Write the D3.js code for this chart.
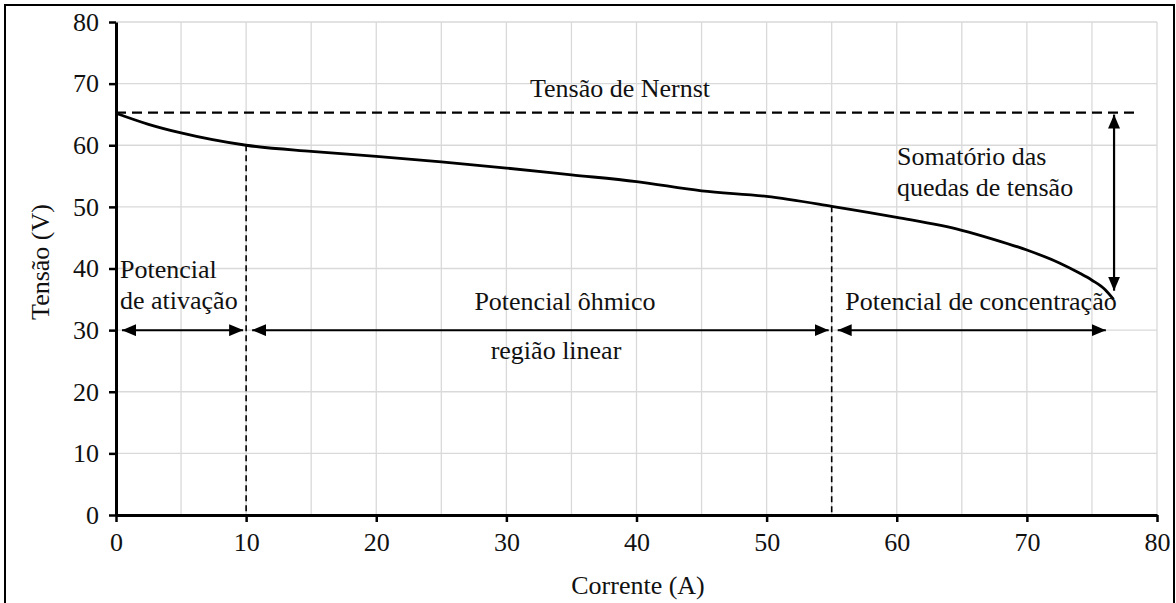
<!DOCTYPE html>
<html><head><meta charset="utf-8">
<script src="https://cdn.jsdelivr.net/npm/d3@7"></script>
<style>body{margin:0;background:#fff}svg{display:block}
svg text{font-family:"Liberation Serif","Times New Roman","DejaVu Serif",serif;}</style>
</head><body>
<script>
const currentA = [0, 2.5, 5, 10, 15, 20, 25, 30, 35, 40, 45, 50, 55, 60, 65, 67.5, 70, 72.5, 74, 75, 76, 76.66];
const voltageV = [65.2, 63.4, 62.0, 60.0, 59.0, 58.2, 57.3, 56.3, 55.2, 54.1, 52.6, 51.7, 50.1, 48.3, 46.2, 44.7, 43.0, 40.9, 39.3, 38.1, 36.6, 35.0];
const xTicks = [0, 10, 20, 30, 40, 50, 60, 70, 80];
const yTicks = [0, 10, 20, 30, 40, 50, 60, 70, 80];
const xGrid = d3.range(0, 81, 5);
const nernstV = 65.3;
const regionBounds = [0, 10, 55, 76.3];
const regionVLines = [10, 55];
const arrowY = 30;

const W = 1176, H = 603;
const svg = d3.select("body").append("svg").attr("width", W).attr("height", H);
const x = d3.scaleLinear().domain([0, 80]).range([116, 1157]);
const y = d3.scaleLinear().domain([0, 80]).range([515, 22]);

// frame
svg.append("rect").attr("x", 5).attr("y", 5).attr("width", 1169).attr("height", 610)
  .attr("fill", "none").attr("stroke", "#000").attr("stroke-width", 2);

const defs = svg.append("defs");
defs.append("marker").attr("id", "ah").attr("viewBox", "0 0 14 12")
  .attr("refX", 14).attr("refY", 6).attr("markerWidth", 14).attr("markerHeight", 12)
  .attr("markerUnits", "userSpaceOnUse").attr("orient", "auto-start-reverse")
  .append("path").attr("d", "M0,0 L14,6 L0,12 Z").attr("fill", "#000");

// grid
const g = svg.append("g");
g.selectAll(".vg").data(xGrid.filter(d => d > 0)).join("line")
  .attr("x1", d => x(d)).attr("x2", d => x(d)).attr("y1", y(0)).attr("y2", y(80))
  .attr("stroke", "#d9d9d9").attr("stroke-width", 1.3);
g.selectAll(".hg").data(yTicks.filter(d => d > 0)).join("line")
  .attr("x1", x(0)).attr("x2", x(80)).attr("y1", d => y(d)).attr("y2", d => y(d))
  .attr("stroke", "#d9d9d9").attr("stroke-width", 1.3);

// axes
const xAxis = d3.axisBottom(x).tickValues(xTicks).tickSize(7).tickSizeOuter(0).tickPadding(11);
const yAxis = d3.axisLeft(y).tickValues(yTicks).tickSize(7).tickSizeOuter(0).tickPadding(10);
const xa = svg.append("g").attr("transform", `translate(0,${y(0)})`).call(xAxis);
const ya = svg.append("g").attr("transform", `translate(${x(0)},0)`).call(yAxis);
[xa, ya].forEach(a => {
  a.attr("font-family", null).attr("font-size", 26);
  a.select(".domain").attr("stroke", "#000").attr("stroke-width", 3);
  a.selectAll(".tick line").attr("stroke", "#000").attr("stroke-width", 2.5);
  a.selectAll(".tick text").attr("fill", "#111");
});

// vertical dashed region lines
svg.selectAll(".rl").data(regionVLines).join("line")
  .attr("x1", d => x(d)).attr("x2", d => x(d))
  .attr("y1", d => y(voltageV[currentA.indexOf(d)])).attr("y2", y(0))
  .attr("stroke", "#000").attr("stroke-width", 1.6).attr("stroke-dasharray", "6,4");

// Nernst dashed line
svg.append("line").attr("x1", x(0)).attr("x2", x(78.5)).attr("y1", y(nernstV)).attr("y2", y(nernstV))
  .attr("stroke", "#000").attr("stroke-width", 2.2).attr("stroke-dasharray", "10,6");

// curve
const line = d3.line().x((d, i) => x(currentA[i])).y(d => y(d)).curve(d3.curveMonotoneX);
svg.append("path").attr("d", line(voltageV)).attr("fill", "none")
  .attr("stroke", "#000").attr("stroke-width", 2.8);

// horizontal double arrows
const segs = [[regionBounds[0], regionBounds[1]], [regionBounds[1], regionBounds[2]], [regionBounds[2], regionBounds[3]]];
svg.selectAll(".ha").data(segs).join("line")
  .attr("x1", d => x(d[0]) + 6).attr("x2", d => x(d[1]) - 3)
  .attr("y1", y(arrowY)).attr("y2", y(arrowY))
  .attr("stroke", "#000").attr("stroke-width", 2)
  .attr("marker-start", "url(#ah)").attr("marker-end", "url(#ah)");

// vertical double arrow
svg.append("line").attr("x1", x(76.7)).attr("x2", x(76.7))
  .attr("y1", y(nernstV) + 2).attr("y2", y(36.4))
  .attr("stroke", "#000").attr("stroke-width", 2.2)
  .attr("marker-start", "url(#ah)").attr("marker-end", "url(#ah)");

// labels
const labels = [
  {t: "Tensão de Nernst", x: 620, y: 97, a: "middle"},
  {t: "Potencial", x: 120, y: 278, a: "start"},
  {t: "de ativação", x: 120, y: 309, a: "start"},
  {t: "Potencial ôhmico", x: 565, y: 310, a: "middle"},
  {t: "região linear", x: 556, y: 359, a: "middle"},
  {t: "Potencial de concentração", x: 981, y: 310, a: "middle"},
  {t: "Somatório das", x: 897, y: 165, a: "start"},
  {t: "quedas de tensão", x: 897, y: 196, a: "start"},
  {t: "Corrente (A)", x: 638, y: 594, a: "middle"}
];
svg.selectAll(".lb").data(labels).join("text")
  .attr("x", d => d.x).attr("y", d => d.y).attr("text-anchor", d => d.a)
  .attr("font-size", 26).attr("fill", "#111").text(d => d.t);

svg.append("text").attr("transform", "translate(49,262) rotate(-90)")
  .attr("text-anchor", "middle").attr("font-size", 26)
  .attr("fill", "#111").text("Tensão (V)");
</script>
</body></html>
